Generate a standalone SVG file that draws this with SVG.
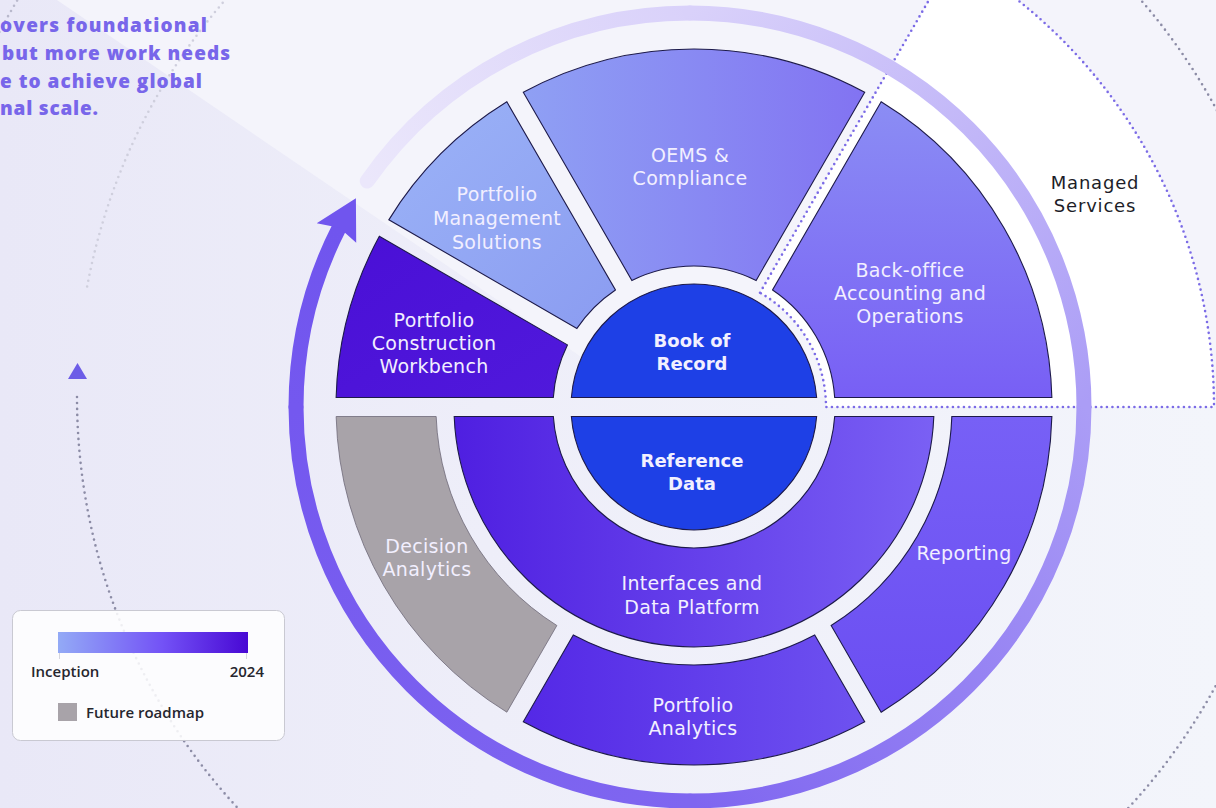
<svg xmlns="http://www.w3.org/2000/svg" width="1216" height="808" viewBox="0 0 1216 808">
  <defs>
    <linearGradient id="bg" x1="0" y1="0" x2="1" y2="0">
      <stop offset="0" stop-color="#e9e8f7"/>
      <stop offset="0.4" stop-color="#eeeef9"/>
      <stop offset="1" stop-color="#f3f5fb"/>
    </linearGradient>
    <!-- timeline ring pieces -->
    <linearGradient id="rA" gradientUnits="userSpaceOnUse" x1="367" y1="181" x2="690" y2="13">
      <stop offset="0" stop-color="#ebe7fb"/><stop offset="1" stop-color="#d9d1fa"/>
    </linearGradient>
    <linearGradient id="rB" gradientUnits="userSpaceOnUse" x1="690" y1="13" x2="1084" y2="407">
      <stop offset="0" stop-color="#d9d1fa"/><stop offset="1" stop-color="#ab9df6"/>
    </linearGradient>
    <linearGradient id="rC" gradientUnits="userSpaceOnUse" x1="1084" y1="407" x2="690" y2="801">
      <stop offset="0" stop-color="#ab9df6"/><stop offset="1" stop-color="#7f66f0"/>
    </linearGradient>
    <linearGradient id="rD" gradientUnits="userSpaceOnUse" x1="690" y1="801" x2="296" y2="407">
      <stop offset="0" stop-color="#7f66f0"/><stop offset="1" stop-color="#7458ef"/>
    </linearGradient>
    <linearGradient id="rE" gradientUnits="userSpaceOnUse" x1="296" y1="407" x2="339" y2="228">
      <stop offset="0" stop-color="#7458ef"/><stop offset="1" stop-color="#7055ee"/>
    </linearGradient>
    <!-- segment fills -->
    <linearGradient id="gPCW" x1="0" y1="0" x2="1" y2="1">
      <stop offset="0" stop-color="#4a0fd6"/><stop offset="1" stop-color="#5019dc"/>
    </linearGradient>
    <linearGradient id="gPMS" x1="0" y1="0" x2="1" y2="1">
      <stop offset="0" stop-color="#9bb3f7"/><stop offset="1" stop-color="#8b9cf1"/>
    </linearGradient>
    <linearGradient id="gOEMS" x1="0" y1="0" x2="1" y2="0">
      <stop offset="0" stop-color="#8fa0f4"/><stop offset="1" stop-color="#8273f2"/>
    </linearGradient>
    <linearGradient id="gBack" x1="0" y1="0" x2="0" y2="1">
      <stop offset="0" stop-color="#8b8df4"/><stop offset="1" stop-color="#785ff5"/>
    </linearGradient>
    <linearGradient id="gIfc" x1="0" y1="0" x2="1" y2="0">
      <stop offset="0" stop-color="#4f1fe1"/><stop offset="1" stop-color="#7a60f4"/>
    </linearGradient>
    <linearGradient id="gRep" x1="0" y1="0" x2="0" y2="1">
      <stop offset="0" stop-color="#7760f6"/><stop offset="1" stop-color="#6b4ef2"/>
    </linearGradient>
    <linearGradient id="gPA" x1="0" y1="0" x2="1" y2="0">
      <stop offset="0" stop-color="#5428e6"/><stop offset="1" stop-color="#6e52f0"/>
    </linearGradient>
    <linearGradient id="gLegend" x1="0" y1="0" x2="1" y2="0">
      <stop offset="0" stop-color="#93aaf6"/>
      <stop offset="0.55" stop-color="#7352f6"/>
      <stop offset="1" stop-color="#4808d4"/>
    </linearGradient>
    <style>
      .seg { stroke: #1d1a4a; stroke-width: 1.1; }
      .lbl { font-family: "DejaVu Sans", "Liberation Sans", sans-serif; font-size: 19px; fill: #f2efff; text-anchor: middle; letter-spacing: 0.3px; }
      .core { font-family: "DejaVu Sans", "Liberation Sans", sans-serif; font-size: 18px; font-weight: 700; fill: #f2f0ff; text-anchor: middle; }
      .dark { font-family: "DejaVu Sans", "Liberation Sans", sans-serif; font-size: 18px; fill: #1d1d28; text-anchor: middle; letter-spacing: 0.8px; }
      .intro { font-family: "Open Sans", "Liberation Sans", sans-serif; font-size: 19px; font-weight: 800; fill: #7866ea; }
      .leg { font-family: "Open Sans", "Liberation Sans", sans-serif; font-size: 15px; font-weight: 600; fill: #26262e; }
      .dots { fill: none; stroke-width: 2.6; stroke-linecap: round; stroke-dasharray: 0 6; }
      .ring { fill: none; stroke-width: 15; stroke-linecap: round; }
    </style>
  </defs>

  <!-- backdrop -->
  <rect width="1216" height="808" fill="url(#bg)"/>
  <polygon points="57,0 640,397 1216,397 1216,0" fill="#f4f4fb"/>

  <!-- outer dotted orbits -->
  <path class="dots" d="M77,397 A606,606 0 1 0 1111.5,-31.5" stroke="#8c8ca6"/>
  <path class="dots" d="M87.15,286.56 A606,606 0 0 1 335.4,-99.4" stroke="#cfcfdd"/>
  <path class="dots" d="M-19.4,69.5 A775,775 0 0 1 295.5,-274" stroke="#b9b9cc"/>
  <polygon points="77.5,363 68,379 87,379" fill="#6c5ce7"/>

  <!-- intro text -->
  <g id="intro">
    <text class="intro" x="0" y="32" textLength="207">overs foundational</text>
    <text class="intro" x="2" y="60" textLength="228">but more work needs</text>
    <text class="intro" x="0" y="88" textLength="202">e to achieve global</text>
    <text class="intro" x="0" y="115" textLength="98">nal scale.</text>
  </g>

  <!-- managed services zone -->
  <g id="managed-services">
    <path d="M760,292.68 L954,-43.33 A520,520 0 0 1 1214,407 L826,407 A132,132 0 0 0 760,292.68 Z" fill="#ffffff" stroke="#7b6be6" stroke-width="2.6" stroke-linecap="round" stroke-dasharray="0 5.5"/>
    <text class="dark" x="1095" y="189">Managed</text>
    <text class="dark" x="1095" y="212">Services</text>
  </g>

  <!-- timeline ring -->
  <g id="connectors">
    <path class="ring" d="M367.25,181.01 A394,394 0 0 1 690,13" stroke="url(#rA)"/>
    <path class="ring" d="M690,13 A394,394 0 0 1 1084,407" stroke="url(#rB)"/>
    <path class="ring" d="M1084,407 A394,394 0 0 1 690,801" stroke="url(#rC)"/>
    <path class="ring" d="M690,801 A394,394 0 0 1 296,407" stroke="url(#rD)"/>
    <path class="ring" d="M296,407 A394,394 0 0 1 338.94,228.13" stroke="url(#rE)" stroke-linecap="butt"/>
    <polygon points="355.9,198.2 316.7,223.3 339.4,227.8 356.2,242.8" fill="#7055ee"/>
  </g>

  <!-- outer ring, upper half -->
  <g id="portfolio-construction-workbench">
    <path class="seg" d="M336.13,397.5 A358,358 0 0 1 379.33,236.27 L567.42,344.89 A141,141 0 0 0 553.32,397.5 Z" fill="url(#gPCW)"/>
    <text class="lbl" x="434" y="327">Portfolio</text>
    <text class="lbl" x="434" y="350">Construction</text>
    <text class="lbl" x="434" y="373">Workbench</text>
  </g>
  <g id="portfolio-management-solutions">
    <path class="seg" d="M388.82,219.84 A358,358 0 0 1 506.84,101.82 L615.43,289.92 A141,141 0 0 0 576.92,328.43 Z" fill="url(#gPMS)"/>
    <text class="lbl" x="497" y="201">Portfolio</text>
    <text class="lbl" x="497" y="225">Management</text>
    <text class="lbl" x="497" y="249">Solutions</text>
  </g>
  <g id="oems-compliance">
    <path class="seg" d="M523.29,92.32 A358,358 0 0 1 864.71,92.32 L756.11,280.41 A141,141 0 0 0 631.89,280.41 Z" fill="url(#gOEMS)"/>
    <text class="lbl" x="690" y="162">OEMS &amp;</text>
    <text class="lbl" x="690" y="185">Compliance</text>
  </g>
  <g id="back-office">
    <path class="seg" d="M881.16,101.82 A358,358 0 0 1 1051.87,397.5 L834.68,397.5 A141,141 0 0 0 772.57,289.92 Z" fill="url(#gBack)"/>
    <text class="lbl" x="910" y="277">Back-office</text>
    <text class="lbl" x="910" y="300">Accounting and</text>
    <text class="lbl" x="910" y="323">Operations</text>
  </g>

  <!-- outer ring, lower half -->
  <g id="reporting">
    <path class="seg" d="M1051.87,416.5 A358,358 0 0 1 881.16,712.18 L831.14,625.53 A258,258 0 0 0 951.83,416.5 Z" fill="url(#gRep)"/>
    <text class="lbl" x="964" y="560">Reporting</text>
  </g>
  <g id="portfolio-analytics">
    <path class="seg" d="M864.71,721.68 A358,358 0 0 1 523.29,721.68 L573.32,635.04 A258,258 0 0 0 814.68,635.04 Z" fill="url(#gPA)"/>
    <text class="lbl" x="693" y="712">Portfolio</text>
    <text class="lbl" x="693" y="735">Analytics</text>
  </g>
  <g id="decision-analytics">
    <path d="M506.84,712.18 A358,358 0 0 1 336.13,416.5 L436.17,416.5 A258,258 0 0 0 556.86,625.53 Z" fill="#a8a3a9" stroke="#6e6a78" stroke-width="0.8"/>
    <text class="lbl" x="427" y="553" fill="#eeeaf2">Decision</text>
    <text class="lbl" x="427" y="576" fill="#eeeaf2">Analytics</text>
  </g>

  <!-- middle ring -->
  <g id="interfaces-data-platform">
    <path class="seg" d="M933.81,416.5 A240,240 0 0 1 454.19,416.5 L553.32,416.5 A141,141 0 0 0 834.68,416.5 Z" fill="url(#gIfc)"/>
    <text class="lbl" x="692" y="590">Interfaces and</text>
    <text class="lbl" x="692" y="614">Data Platform</text>
  </g>

  <!-- core -->
  <g id="book-of-record">
    <path class="seg" d="M571.37,397.5 A123,123 0 0 1 816.63,397.5 Z" fill="#1e40e6"/>
    <text class="core" x="692" y="347">Book of</text>
    <text class="core" x="692" y="370">Record</text>
  </g>
  <g id="reference-data">
    <path class="seg" d="M816.63,416.5 A123,123 0 0 1 571.37,416.5 Z" fill="#1e40e6"/>
    <text class="core" x="692" y="467">Reference</text>
    <text class="core" x="692" y="490">Data</text>
  </g>

  <!-- legend -->
  <g id="legend">
    <rect x="12.5" y="610.5" width="272" height="130" rx="8" fill="#ffffff" fill-opacity="0.85" stroke="#c9c9d2" stroke-width="1"/>
    <rect x="58" y="632" width="190" height="21" fill="url(#gLegend)"/>
    <line x1="59.5" y1="653" x2="59.5" y2="659" stroke="#d6d6de"/>
    <line x1="246.5" y1="653" x2="246.5" y2="659" stroke="#d6d6de"/>
    <text class="leg" x="31" y="677">Inception</text>
    <text class="leg" x="264" y="677" text-anchor="end">2024</text>
    <rect x="58" y="703" width="19" height="18" fill="#a8a3a9"/>
    <text class="leg" x="86" y="718">Future roadmap</text>
  </g>
</svg>
